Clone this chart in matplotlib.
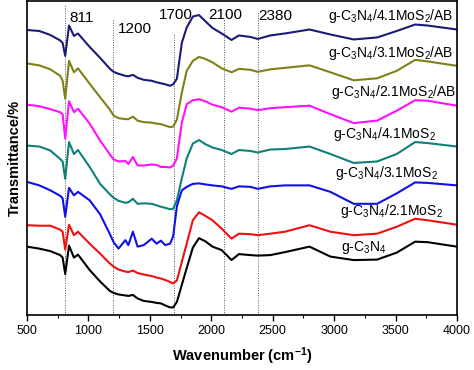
import numpy as np
import matplotlib
matplotlib.use("Agg")
import matplotlib.pyplot as plt
from matplotlib.ticker import MultipleLocator

plt.rcParams["font.family"] = ["Liberation Sans", "DejaVu Sans"]
plt.rcParams["mathtext.fontset"] = "custom"
plt.rcParams["mathtext.rm"] = "Liberation Sans"
plt.rcParams["mathtext.it"] = "Liberation Sans:italic"
plt.rcParams["mathtext.bf"] = "Liberation Sans:bold"

# wavenumber grid (cm-1)
wavenumber = [500, 600, 690, 770, 790, 811, 842, 882, 915, 1010, 1095, 1175, 1205,
              1245, 1300, 1325, 1362, 1400, 1450, 1515, 1555, 1590, 1625, 1665,
              1690, 1720, 1760, 1800, 1850, 1900, 1950, 2010, 2085, 2165, 2225,
              2320, 2378, 2480, 2600, 2800, 2970, 3160, 3350, 3510, 3660, 3760, 4000]

# transmittance (arbitrary, stacked)
t_41_ab = [286, 285, 281, 275.5, 273, 260, 290.5, 280, 282.5, 269, 258, 247, 244,
           242, 240, 239.5, 241, 238, 236, 235, 233.5, 232.5, 231.5, 230,
           231.5, 237, 273, 288.5, 299.5, 301, 295, 288, 282.5, 276, 280.5,
           279, 277, 280.5, 282.5, 286.5, 281.5, 276.5, 278.5, 285, 291.5, 290.5, 286.5]
t_31_ab = [252.5, 250.5, 246.5, 240, 235, 217, 255, 243.5, 247.5, 232, 218.5, 206, 200,
           197.5, 196.5, 196.5, 199, 195, 193.5, 193, 192, 191.5, 190, 188.5,
           189, 196, 223, 245, 255, 259, 257, 253.5, 247.5, 243.5, 247,
           246, 244, 246.5, 248, 250.5, 243.5, 235.5, 237.5, 245, 256, 254.5, 250]
t_21_ab = [211, 209.5, 206.5, 203.5, 201.5, 177, 214.5, 203.5, 207, 192, 175, 161, 156,
           154, 154.5, 151.5, 158.5, 150, 150, 151, 150.5, 148.5, 148.5, 148,
           150, 157, 193, 211.5, 215.5, 216.5, 214.5, 211, 208.5, 204, 208,
           207, 205.5, 207.5, 208.5, 210, 201.5, 192.5, 195, 205, 215.5, 215, 210]
t_41 = [170, 169, 165, 156.5, 154, 136.5, 173.5, 161.5, 165.5, 148.5, 131.5, 121, 117.5,
        114.5, 112.5, 113, 116.5, 111.5, 112, 111.5, 110, 108.5, 107.5, 106,
        106.5, 115, 137, 157, 172, 175.5, 171.5, 168, 165.5, 161.5, 165.5,
        164.5, 163, 166, 166.5, 169, 161.5, 152.5, 154, 161.5, 173.5, 172.5, 169]
t_31 = [133.5, 130, 125, 119.5, 117, 98.5, 127.5, 120, 123.5, 115, 101, 81, 73,
        66.5, 75, 70, 83.5, 68.5, 70, 76.5, 71.5, 74.5, 70, 71.5,
        79, 109, 125, 128.5, 131.5, 132, 131, 130, 129, 126.5, 129,
        128.5, 126.5, 129, 130, 130, 123.5, 111.5, 111.5, 122, 133, 132.5, 130]
t_21 = [90, 89.5, 89.5, 85.5, 83.5, 65.5, 90.5, 80, 83.5, 71.5, 61.5, 51.5, 48.5,
        45.5, 43.5, 43, 44.5, 42, 40.5, 39, 37.5, 36.5, 35, 33,
        31.5, 34.5, 53, 71.5, 95, 103, 99.5, 95, 86.5, 76.5, 81.5,
        81, 80, 81.5, 83.5, 90, 83.5, 80, 81.5, 88.5, 96.5, 95, 90.5]
t_cn = [68.5, 66.5, 64, 60, 57.5, 41, 69.5, 57.5, 60.5, 45, 33.5, 24, 22,
        20.5, 19.5, 19, 20, 16.5, 14, 13, 12, 11.5, 9.5, 7.5,
        7.5, 13, 30, 47, 67.5, 77, 74, 68.5, 65, 55, 61,
        60, 59.5, 60, 63, 68.5, 58.5, 55, 55.5, 62.5, 73.5, 73, 68.5]

labels = ["g-C$_3$N$_4$/4.1MoS$_2$/AB", "g-C$_3$N$_4$/3.1MoS$_2$/AB",
          "g-C$_3$N$_4$/2.1MoS$_2$/AB", "g-C$_3$N$_4$/4.1MoS$_2$",
          "g-C$_3$N$_4$/3.1MoS$_2$", "g-C$_3$N$_4$/2.1MoS$_2$", "g-C$_3$N$_4$"]
series = [t_41_ab, t_31_ab, t_21_ab, t_41, t_31, t_21, t_cn]
colors = ["#1b1b78", "#808018", "#ff10ff", "#0f8078", "#1010e8", "#f01010", "#000000"]
label_x = [2950, 2950, 2975, 2990, 3005, 3045, 3055]
label_y = [300, 263, 224, 182, 142, 104, 68]

peaks = [811, 1200, 1700, 2100, 2380]
peak_line_top = [312, 297, 283, 297, 305]
peak_text_x = [844, 1243, 1577, 1976, 2383]
peak_text_y = [298, 286.5, 301, 301, 300]

fig, ax = plt.subplots(figsize=(4.74, 3.70), dpi=100)
fig.subplots_adjust(left=0.057, right=0.964, top=0.997, bottom=0.149)

ax.vlines(peaks, 0, peak_line_top, colors="#555555", linestyles=(0, (1, 1.5)), lw=0.7)

for y, c in zip(series, colors):
    ax.plot(wavenumber, y, color=c, lw=1.5, solid_joinstyle="round")

for lab, x, y in zip(labels, label_x, label_y):
    ax.text(x, y, lab, fontsize=10, ha="left", va="center")

for p, x, y in zip(peaks, peak_text_x, peak_text_y):
    ax.text(x, y, str(p), fontsize=11, ha="left", va="center")

ax.set_xlim(500, 4000)
ax.set_ylim(0, 315)
ax.xaxis.set_major_locator(MultipleLocator(500))
ax.xaxis.set_minor_locator(MultipleLocator(250))
ax.tick_params(axis="x", which="major", length=4, width=1, labelsize=9, direction="out")
ax.tick_params(axis="x", which="minor", length=2.5, width=0.8, direction="out")
ax.set_yticks([])
for s in ax.spines.values():
    s.set_linewidth(1.2)

ax.set_xlabel("Wavenumber (cm$^{\\mathbf{-1}}$)", fontsize=10.5, fontweight="bold", labelpad=6)
ax.set_ylabel("Transmittance/%", fontsize=10.5, fontweight="bold", labelpad=4)

fig.savefig("out.png", dpi=100)
